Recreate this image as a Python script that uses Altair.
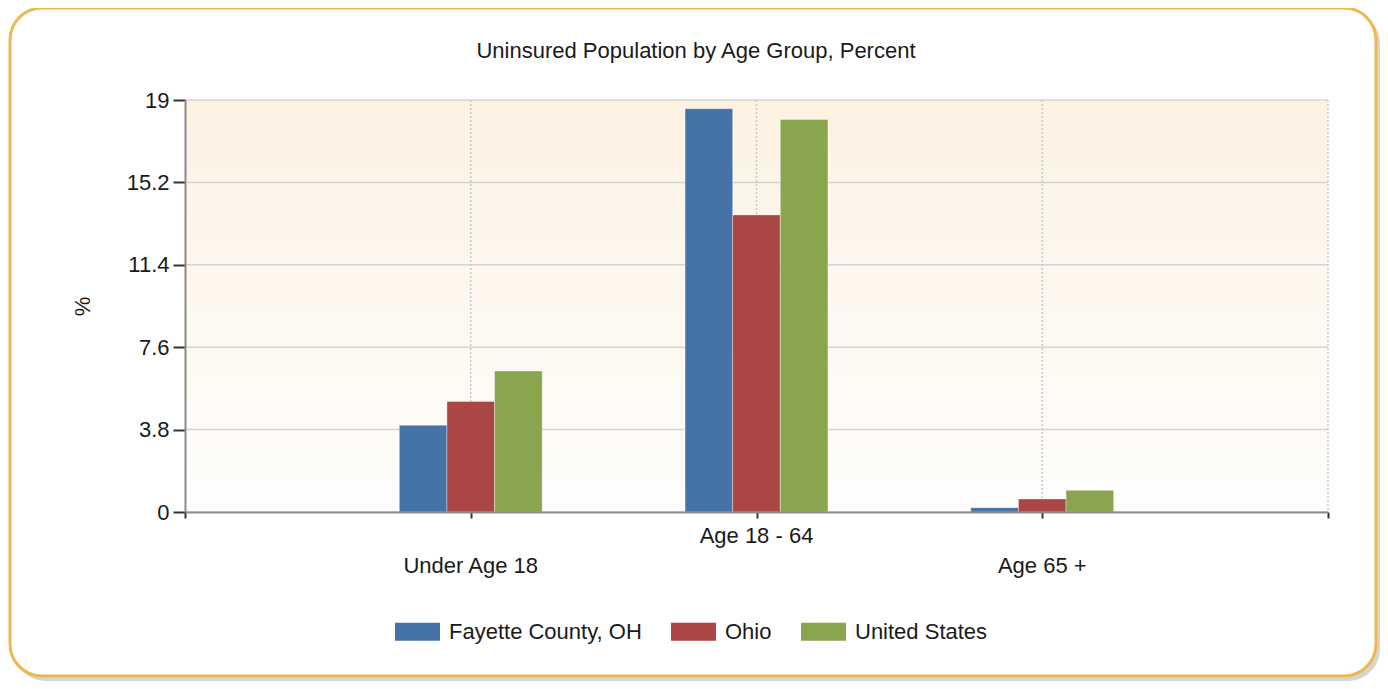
import altair as alt
import pandas as pd

# ---- data ----
categories = ["Under Age 18", "Age 18 - 64", "Age 65 +"]
series = ["Fayette County, OH", "Ohio", "United States"]
fayette = [4.0, 18.6, 0.2]
ohio = [5.1, 13.7, 0.6]
us = [6.5, 18.1, 1.0]
y_ticks = [0, 3.8, 7.6, 11.4, 15.2, 19]
x_ticks = [0, 1, 2, 3, 4]
colors = ["#4572A7", "#AA4643", "#89A54E"]
title_text = "Uninsured Population by Age Group, Percent"

values = [fayette, ohio, us]
rows = []
for k, s in enumerate(series):
    for i, c in enumerate(categories):
        rows.append({"cat": c, "idx": i + 1, "series": s, "k": k, "value": values[k][i]})
df = pd.DataFrame(rows)
cat_df = pd.DataFrame({"cat": categories, "idx": list(range(1, len(categories) + 1))})
ytick_df = pd.DataFrame({"v": y_ticks})
xgrid_df = pd.DataFrame({"v": x_ticks[1:]})

W, H = 1143, 412
FONT = "Liberation Sans"
FS = 22
TXT = "#1a1a1a"

xscale = alt.Scale(domain=[0, 4], nice=False, zero=False)
yscale = alt.Scale(domain=[0, 19], nice=False)

xaxis = alt.Axis(values=x_ticks, labels=False, title=None, grid=False, domainColor="#8a8a8a",
                 domainWidth=2, tickColor="#333333", tickWidth=2, tickSize=6, zindex=1)
yaxis = alt.Axis(values=y_ticks, format=".1~f", title="%", grid=False, domainColor="#8a8a8a",
                 domainWidth=2, tickColor="#333333", tickWidth=2, tickSize=12, labelPadding=4,
                 labelFont=FONT, labelFontSize=FS, labelColor=TXT, titleFont=FONT, titleFontSize=FS,
                 titleFontWeight="normal", titleColor=TXT, titleX=-103, titleY=206, titleAngle=270,
                 titleBaseline="middle", titleAlign="center", zindex=1)

one = pd.DataFrame({"a": [0]})

shadow = alt.Chart(one).mark_rect(fill="#c4c4c4", cornerRadius=32, opacity=0.7).encode(
    x=alt.value(-171), x2=alt.value(1195), y=alt.value(-88), y2=alt.value(581)
)
box = alt.Chart(one).mark_rect(fill="white", stroke="#EDB84E", strokeWidth=3, cornerRadius=32).encode(
    x=alt.value(-175), x2=alt.value(1191), y=alt.value(-92), y2=alt.value(576)
)
bg = alt.Chart(one).mark_rect(
    fill=alt.LinearGradient(
        gradient="linear",
        stops=[alt.GradientStop(color="#FCF2E2", offset=0), alt.GradientStop(color="#FFFEFD", offset=1)],
        x1=0, x2=0, y1=0, y2=1,
    )
).encode(x=alt.value(0), x2=alt.value(W), y=alt.value(0), y2=alt.value(H))

hgrid = alt.Chart(ytick_df).mark_rule(color="#d4d4d4", strokeWidth=1.5).encode(
    y=alt.Y("v:Q", scale=yscale, axis=yaxis)
)
vgrid = alt.Chart(xgrid_df).mark_rule(color="#c8c8c8", strokeWidth=1.5, strokeDash=[2, 2]).encode(
    x=alt.X("v:Q", scale=xscale, axis=xaxis)
)

bars = alt.Chart(df).transform_calculate(
    x0="datum.idx - 0.25 + datum.k / 6", x1="datum.idx - 0.25 + (datum.k + 1) / 6"
).mark_bar(stroke="white", strokeWidth=0.6, strokeOpacity=0.6).encode(
    x=alt.X("x0:Q", scale=xscale, axis=xaxis),
    x2="x1:Q",
    y=alt.Y("value:Q", scale=yscale, axis=yaxis),
    y2=alt.datum(0),
    color=alt.Color(
        "series:N", scale=alt.Scale(domain=series, range=colors),
        legend=alt.Legend(orient="none", legendX=210, legendY=509, direction="horizontal", title=None,
                          symbolType="M-1,-0.4H1V0.4H-1Z", symbolSize=2025, symbolStrokeWidth=0,
                          symbolOpacity=1, labelFont=FONT, labelFontSize=FS, labelColor=TXT,
                          labelOffset=9, columnPadding=29, labelLimit=400, padding=0),
    ),
)

lab_hi = alt.Chart(cat_df).transform_filter("datum.idx % 2 == 0").mark_text(
    font=FONT, fontSize=FS, color=TXT, baseline="middle"
).encode(x=alt.X("idx:Q", scale=xscale, axis=xaxis), y=alt.value(H + 24), text="cat:N")
lab_lo = alt.Chart(cat_df).transform_filter("datum.idx % 2 == 1").mark_text(
    font=FONT, fontSize=FS, color=TXT, baseline="middle"
).encode(x=alt.X("idx:Q", scale=xscale, axis=xaxis), y=alt.value(H + 54), text="cat:N")

title = alt.Chart(pd.DataFrame({"t": [title_text]})).mark_text(
    font=FONT, fontSize=FS, color=TXT, baseline="middle"
).encode(x=alt.value(511), y=alt.value(-49), text="t:N")

chart = alt.layer(shadow, box, bg, hgrid, vgrid, bars, lab_hi, lab_lo, title).properties(
    width=W, height=H,
    autosize=alt.AutoSizeParams(type="none"),
    padding={"left": 177, "top": 92, "right": 52, "bottom": 169},
    background="white",
).configure_view(stroke=None)

chart.save("out.html", embed_options={"renderer": "svg", "actions": False})
